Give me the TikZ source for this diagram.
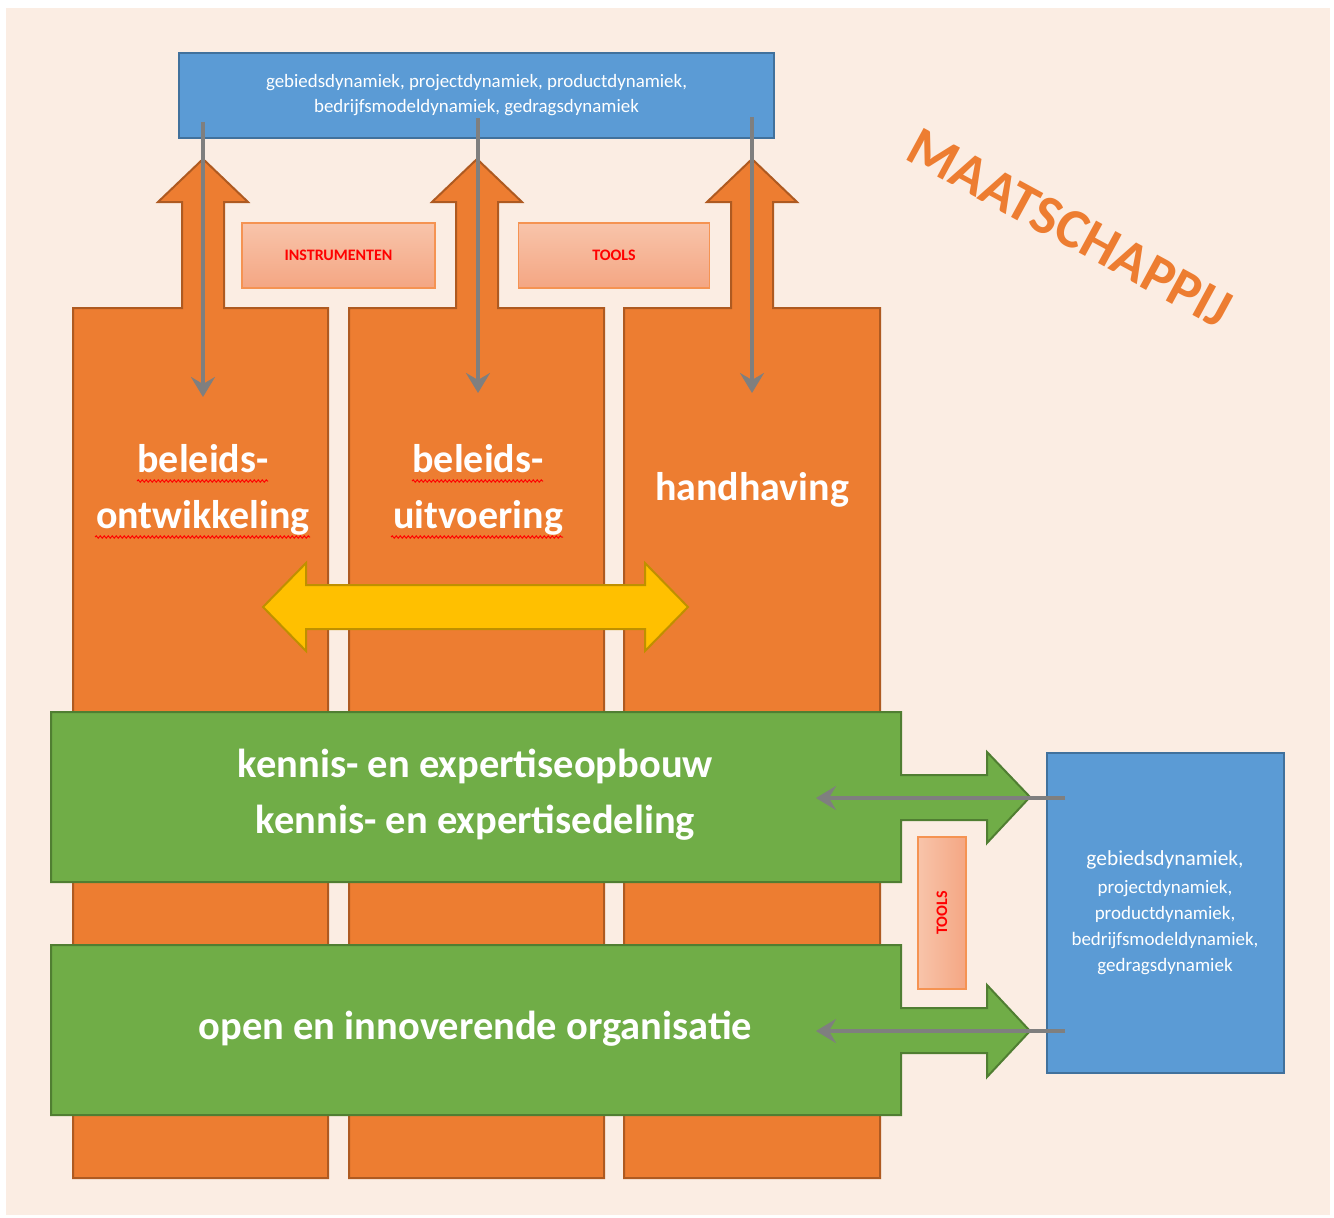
\documentclass[tikz,border=0pt]{standalone}
\usepackage{fontspec}
\setmainfont{Carlito}
\usetikzlibrary{arrows.meta,decorations.pathmorphing}
\definecolor{bgc}{HTML}{FBEDE3}
\definecolor{orfill}{HTML}{ED7D31}
\definecolor{ordraw}{HTML}{AE5A21}
\definecolor{blfill}{HTML}{5B9BD5}
\definecolor{bldraw}{HTML}{41719C}
\definecolor{grfill}{HTML}{70AD47}
\definecolor{grdraw}{HTML}{507E32}
\definecolor{yefill}{HTML}{FFC000}
\definecolor{yedraw}{HTML}{BF9000}
\definecolor{grayline}{HTML}{7F7F7F}
\definecolor{pinklight}{HTML}{F8C4AA}
\definecolor{pinkdark}{HTML}{F4A683}
\definecolor{pinkdraw}{HTML}{F59352}
\tikzset{
  column/.style={fill=orfill,draw=ordraw,line width=2pt},
  bluebox/.style={fill=blfill,draw=bldraw,line width=2pt,text=white,align=center,inner sep=0pt},
  greenbar/.style={fill=grfill,draw=grdraw,line width=2pt},
  yellowarrow/.style={fill=yefill,draw=yedraw,line width=2pt},
  pinkbox/.style={draw=pinkdraw,line width=1.2pt,text=red,inner sep=0pt,font=\fontsize{16}{18}\selectfont\bfseries},
  grayarrow/.style={draw=grayline,line width=4pt,-{Stealth[length=20pt,width=24pt,inset=7pt]}},
  coltext/.style={text=white,align=center,font=\fontsize{40}{56}\selectfont\bfseries},
  bartext/.style={text=white,align=center,font=\fontsize{40.5}{56}\selectfont\bfseries},
  squiggle/.style={draw=red,line width=1pt,decorate,decoration={snake,amplitude=1.1pt,segment length=4pt}}
}
\begin{document}
\begin{tikzpicture}[x=1pt,y=-1pt]
\useasboundingbox (0,0) rectangle (1334,1218);
\fill[white] (0,0) rectangle (1334,1218);
\fill[bgc] (6,8) rectangle (1330,1215);

% top blue box
\node[bluebox,minimum width=595pt,minimum height=85pt,font=\fontsize{18.9}{25}\selectfont] (topbox) at (476.5,95.5)
  {gebiedsdynamiek, projectdynamiek, productdynamiek,\\bedrijfsmodeldynamiek, gedragsdynamiek};

% orange columns with up arrows
\draw[column] (73,1178) -- (73,308) -- (182,308) -- (182,202) -- (158,202) -- (203,159) -- (248,202) -- (224,202) -- (224,308) -- (328,308) -- (328,1178) -- cycle;
\draw[column] (349,1178) -- (349,308) -- (456,308) -- (456,202) -- (432,202) -- (477,159) -- (522,202) -- (498,202) -- (498,308) -- (604,308) -- (604,1178) -- cycle;
\draw[column] (624,1178) -- (624,308) -- (731,308) -- (731,202) -- (707,202) -- (752,159) -- (797,202) -- (773,202) -- (773,308) -- (880,308) -- (880,1178) -- cycle;

% pink label boxes
\node[pinkbox,top color=pinklight,bottom color=pinkdark,minimum width=193pt,minimum height=65pt] (instr) at (338.5,255.5) {INSTRUMENTEN};
\node[pinkbox,top color=pinklight,bottom color=pinkdark,minimum width=191pt,minimum height=65pt] (tools1) at (614,255.5) {TOOLS};

% gray arrows from top box
\coordinate (g1s) at (203,122); \coordinate (g1e) at (203,397);
\coordinate (g2s) at (478,118); \coordinate (g2e) at (478,393);
\coordinate (g3s) at (752,117); \coordinate (g3e) at (752,393);
\draw[grayarrow] (g1s) -- (g1e);
\draw[grayarrow] (g2s) -- (g2e);
\draw[grayarrow] (g3s) -- (g3e);

% column texts
\node[coltext] (c1) at (203,490) {beleids-\\ontwikkeling};
\node[coltext] (c2) at (478,490) {beleids-\\uitvoering};
\node[coltext] (c3) at (752,490) {handhaving};
\draw[squiggle] (137,481) -- (268,481);
\draw[squiggle] (95,537) -- (310,537);
\draw[squiggle] (412,481) -- (543,481);
\draw[squiggle] (391,537) -- (563,537);

% yellow double arrow
\draw[yellowarrow] (263,607) -- (306,563) -- (306,585) -- (645,585) -- (645,563) -- (688,607) -- (645,651) -- (645,629) -- (306,629) -- (306,651) -- cycle;

% green bars with right arrows
\draw[greenbar] (51,712) -- (901,712) -- (901,775) -- (987,775) -- (987,752) -- (1030,797) -- (987,843) -- (987,820) -- (901,820) -- (901,882) -- (51,882) -- cycle;
\draw[greenbar] (51,945) -- (901,945) -- (901,1008) -- (987,1008) -- (987,985) -- (1030,1031) -- (987,1077) -- (987,1053) -- (901,1053) -- (901,1115) -- (51,1115) -- cycle;
\node[bartext] (b1) at (475.5,795) {kennis- en expertiseopbouw\\kennis- en expertisedeling};
\node[bartext] (b2) at (475.5,1029) {open en innoverende organisatie};

% right blue box
\node[bluebox,minimum width=237pt,minimum height=320pt,font=\fontsize{19}{26}\selectfont] (rightbox) at (1165,913)
  {{\fontsize{21.4}{26}\selectfont gebiedsdynamiek,}\\[2pt]projectdynamiek,\\productdynamiek,\\bedrijfsmodeldynamiek,\\gedragsdynamiek};

% vertical tools box
\node[pinkbox,left color=pinklight,right color=pinkdark,minimum width=48pt,minimum height=152pt] (tools2) at (942,913) {};
\node[text=red,rotate=90,font=\fontsize{16}{18}\selectfont\bfseries] (tools2t) at (tools2.center) {TOOLS};

% gray arrows from right box
\coordinate (h1s) at (1065,798); \coordinate (h1e) at (816,798);
\coordinate (h2s) at (1065,1031); \coordinate (h2e) at (816,1031);
\draw[grayarrow] (h1s) -- (h1e);
\draw[grayarrow] (h2s) -- (h2e);

% MAATSCHAPPIJ
\node[text=orfill,rotate=-28.5,font=\fontsize{56}{60}\selectfont\bfseries] (maat) at (1070,228) {MAATSCHAPPIJ};
\end{tikzpicture}
\end{document}
